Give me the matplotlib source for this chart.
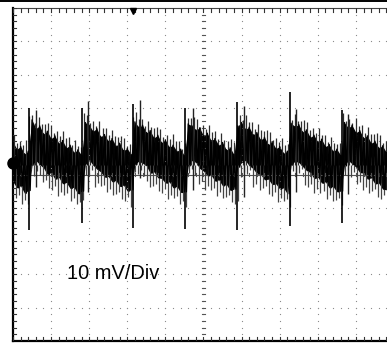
import numpy as np
import matplotlib
matplotlib.use("Agg")
import matplotlib.pyplot as plt
from matplotlib.lines import Line2D

# scope capture, 10 mV/div, 10 x 10 divisions
t_div = np.linspace(0.0, 9.8, 99)          # sample times in divisions
band_hi = [9.8, 7.6, 8.4, 6.2, 7.0,
           16.4, 13.8, 14.6, 12.2, 13.0, 10.8, 11.6, 9.4, 10.2, 8.0, 8.8, 6.6, 7.4, 5.8,
           15.6, 14.8, 13.0, 13.8, 11.4, 12.0, 10.0, 10.8, 8.6, 9.4, 7.2, 7.8, 6.0,
           15.8, 14.2, 14.8, 12.6, 13.2, 11.0, 11.8, 9.6, 10.4, 8.2, 8.8, 7.0, 7.6, 5.6,
           15.2, 14.6, 13.4, 14.0, 11.6, 12.4, 10.2, 10.8, 8.8, 9.6, 7.4, 8.0, 6.0,
           14.6, 15.6, 13.6, 14.2, 12.0, 12.6, 10.4, 11.2, 9.0, 9.8, 7.8, 8.4, 6.4, 7.0,
           15.4, 14.4, 15.0, 12.8, 13.4, 11.2, 11.8, 9.8, 10.6, 8.4, 9.0, 7.0, 7.6, 5.8,
           15.6, 14.0, 14.8, 12.6, 13.2, 11.0, 11.6, 9.4, 10.0, 8.0, 8.6, 6.6]
band_lo = [-2.2, -4.0, -3.4, -5.6, -4.8,
           2.8, 4.2, 3.0, 2.0, 0.0, 0.6, -1.4, -0.8, -2.8, -2.4, -4.2, -3.8, -5.8, -5.0,
           3.0, 4.4, 2.8, 1.6, 0.8, -0.8, -0.6, -2.2, -1.8, -3.6, -3.2, -5.0, -4.6,
           3.0, 4.0, 3.4, 2.6, 0.4, 0.8, -1.0, -1.2, -2.6, -2.2, -4.0, -3.6, -5.4, -5.2,
           2.6, 4.2, 3.6, 1.8, 1.0, -0.4, -0.2, -2.0, -1.6, -3.4, -3.0, -4.8, -4.4,
           2.2, 3.6, 4.2, 2.6, 1.8, 0.2, 0.0, -1.6, -1.4, -3.0, -2.8, -4.4, -4.0, -5.8,
           2.8, 4.0, 3.6, 2.4, 1.2, 0.6, -1.2, -0.8, -2.6, -2.2, -4.0, -3.6, -5.2, -5.0,
           2.6, 4.2, 3.2, 2.2, 0.6, 0.4, -1.4, -1.0, -2.8, -2.6, -4.4, -4.6]

# noise fringe: tips of the spurs above / below the band, every 0.08 div
spur_x = np.linspace(0.03, 9.79, 123)
spur_up = [11.9, 9.6, 10.2, 8.9, 10.3,
           17.7, 17.9, 15.6, 17.3, 15.3, 15.1, 15.5, 14.8, 12.5, 13.1, 11.7, 13.2,
           11.0, 11.2, 8.9, 10.5, 8.6, 8.4,
           18.4, 17.8, 15.4, 16.0, 14.7, 16.1, 14.0, 14.1, 11.8, 13.5, 11.5, 11.4,
           11.7, 11.0, 8.7, 9.3,
           17.4, 18.8, 16.7, 16.8, 14.6, 16.2, 14.2, 14.1, 14.4, 13.8, 11.4, 12.0,
           10.7, 12.1, 10.0, 10.1, 7.8, 9.5,
           17.1, 17.0, 17.3, 16.6, 14.3, 14.9, 13.6, 15.0, 12.8, 13.0, 10.7, 12.4,
           10.4, 10.2, 10.6, 9.9, 7.6,
           17.8, 16.4, 17.9, 15.7, 15.8, 13.6, 15.2, 13.3, 13.1, 13.4, 12.8, 10.4,
           11.1, 9.7, 11.1, 9.0, 9.1,
           16.5, 18.1, 16.1, 16.0, 16.3, 15.7, 13.3, 13.9, 12.6, 14.0, 11.9, 12.0,
           9.7, 11.4, 9.4, 9.3, 9.6,
           18.5, 16.2, 16.8, 15.4, 16.9, 14.7, 14.9, 12.6, 14.2, 12.3, 12.1, 12.5,
           11.8, 9.4, 10.1]
spur_dn = [-7.2, -6.1, -9.0, -7.8, -8.8,
           1.3, -0.5, 1.0, -0.3, -2.4, -1.8, -4.0, -4.6, -3.5, -6.4, -5.2, -6.2,
           -5.7, -8.0, -7.0, -8.8, -8.4, -7.8,
           0.0, -0.1, 1.5, -3.8, -2.6, -3.6, -3.1, -5.4, -4.4, -6.2, -5.8, -5.2,
           -7.4, -8.0, -6.9, -9.8,
           0.8, 0.3, 1.3, -0.5, -2.0, -3.8, -3.4, -2.8, -5.0, -5.6, -4.5, -7.4,
           -6.2, -7.2, -6.6, -8.9, -7.9, -9.7,
           0.6, 1.7, 0.0, -3.0, -1.9, -4.8, -3.6, -4.6, -4.1, -6.4, -5.4, -7.2,
           -6.8, -6.2, -8.4, -9.0, -7.9,
           -0.9, 0.8, 0.3, 1.3, -3.9, -2.9, -4.6, -4.2, -3.6, -5.8, -6.4, -5.3,
           -8.2, -7.0, -8.0, -7.5, -9.8,
           1.0, -0.3, 0.6, 1.7, -3.3, -3.9, -2.8, -5.7, -4.5, -5.5, -5.0, -7.3,
           -6.3, -8.1, -7.7, -7.1, -9.2,
           -0.1, 1.5, -0.9, 0.8, -2.9, -2.4, -4.7, -3.7, -5.5, -5.1, -4.5, -6.7,
           -7.3, -6.2, -9.1]

# switching spikes
spike_x = [0.42, 1.80, 3.15, 4.52, 5.89, 7.26, 8.63]
spike_hi = [20.0, 20.0, 21.2, 20.0, 21.8, 24.8, 19.4]
spike_lo = [-16.7, -14.6, -16.0, -16.4, -16.7, -15.5, -14.6]
ring_x = [0.60, 1.97, 3.33, 4.72, 6.06, 7.43, 8.79]
ring_hi = [19.4, 22.1, 22.4, 20.0, 20.6, 19.7, 18.2]
ring_lo = [-3.8, -5.3, -1.0, -4.7, -6.8, -5.3, -5.9]

trigger_x = 3.15
ch_marker_y = 3.4
scale_label = "10 mV/Div"

W, H = 387, 343
fig = plt.figure(figsize=(W / 100, H / 100), dpi=100)
ax = fig.add_axes([13 / W, 2 / H, 381 / W, 333 / H])
ax.set_xlim(0, 10)
ax.set_ylim(-50, 50)
ax.axis("off")

# graticule dots
grid_c = "#8c8c8c"
minor_x = np.arange(0, 10.01, 0.2)
minor_y = np.arange(-50, 50.1, 2.0)
for gx in range(1, 10):
    ax.plot(np.full_like(minor_y, gx), minor_y, ls="none", marker="s",
            ms=0.8, mew=0, color=grid_c)
for gy in (-40, -30, -20, -10, 10, 20, 30, 40):
    ax.plot(minor_x, np.full_like(minor_x, gy), ls="none", marker="s",
            ms=0.8, mew=0, color=grid_c)

# centre cross with ticks
ax.axhline(0, color="#555555", lw=0.8)
for gx in minor_x:
    ax.plot([gx, gx], [-0.6, 0.6], color="#555555", lw=0.8)
for gy in minor_y:
    ax.plot([4.95, 5.05], [gy, gy], color="#555555", lw=0.8)

# frame with ticks
ax.plot([0, 0], [-50, 50], color="black", lw=1.6, clip_on=False)
ax.plot([0, 10], [-50, -50], color="black", lw=1.6, clip_on=False)
ax.plot([0, 10], [50, 50], color="#444444", lw=0.8, clip_on=False)
for gy in minor_y:
    ax.plot([0, 0.09], [gy, gy], color="#333333", lw=0.8)
for gx in minor_x:
    ax.plot([gx, gx], [-50, -48.9], color="#333333", lw=0.8)
    ax.plot([gx, gx], [50, 48.9], color="#333333", lw=0.8)
fig.add_artist(Line2D([0, 1], [1 - 0.8 / H, 1 - 0.8 / H], color="black", lw=1.4))

# trace: fringe spurs, solid core, zigzag edge, spikes
ax.vlines(spur_x, 3.0, spur_up, color="#2e2e2e", lw=0.9)
ax.vlines(spur_x + 0.04, spur_dn, 3.0, color="#444444", lw=0.9)
ax.fill_between(t_div, band_lo, band_hi, color="black", lw=0)
xs = np.column_stack([t_div, t_div + 0.05]).ravel()
ys = np.column_stack([band_hi, band_lo]).ravel()
ax.plot(xs, ys, color="black", lw=1.0)
ax.vlines(spike_x, spike_lo, spike_hi, color="black", lw=1.2)
ax.vlines(ring_x, ring_lo, ring_hi, color="#222222", lw=1.0)

# markers and label
ax.plot([trigger_x], [49.0], marker="v", ms=5, color="black", clip_on=False)
ax.plot([0], [ch_marker_y], marker="o", ms=8, color="black", clip_on=False)
ax.text(1.42, -31.3, scale_label, fontsize=14.4, family="Liberation Sans",
        ha="left", va="baseline")

fig.savefig("out.png", dpi=100)
